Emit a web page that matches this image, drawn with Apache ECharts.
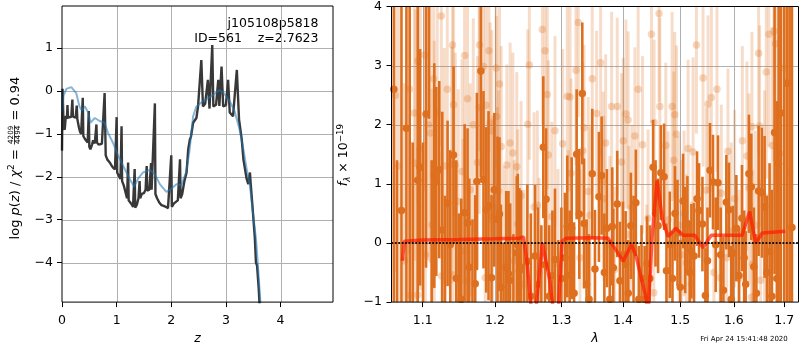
<!DOCTYPE html>
<html>
<head>
<meta charset="utf-8">
<title>j105108p5818 ID=561 redshift fit</title>
<script src="https://cdn.jsdelivr.net/npm/echarts@6.0.0/dist/echarts.min.js"></script>
<style>
  html, body { margin: 0; padding: 0; background: #fff; }
  #chart { width: 800px; height: 350px; }
</style>
</head>
<body>
<div id="chart"></div>
<script>
// ---------- p(z) panel ----------
const fitZ = [0.00,0.01,0.03,0.05,0.07,0.09,0.10,0.11,0.14,0.17,0.19,0.20,0.23,0.25,0.27,0.28,0.31,0.33,0.35,0.38,0.39,0.42,0.45,0.47,0.49,0.50,0.52,0.55,0.57,0.60,0.63,0.64,0.67,0.70,0.73,0.76,0.78,0.80,0.83,0.87,0.90,0.93,0.97,1.00,1.01,1.04,1.07,1.09,1.10,1.13,1.16,1.19,1.21,1.22,1.25,1.28,1.30,1.33,1.34,1.37,1.40,1.42,1.43,1.46,1.50,1.53,1.55,1.56,1.60,1.63,1.64,1.67,1.70,1.71,1.74,1.78,1.82,1.86,1.90,1.94,1.97,2.00,2.01,2.05,2.08,2.12,2.16,2.17,2.20,2.24,2.28,2.31,2.34,2.36,2.40,2.43,2.46,2.49,2.52,2.55,2.58,2.62,2.67,2.70,2.75,2.77,2.82,2.86,2.88,2.92,2.95,3.00,3.04,3.07,3.13,3.20,3.24,3.29,3.32,3.38,3.41,3.44,3.45,3.49,3.53,3.55,3.57,3.60,3.63];
const fitLogP = [-1.39,0.05,-0.85,-0.9,-0.58,-0.65,-0.33,-0.62,-0.6,-0.6,-0.2,-0.6,-0.62,-0.62,-0.34,-0.65,-0.85,-0.95,-1.0,-0.16,-1.05,-1.12,-1.15,-1.2,-0.47,-1.3,-1.36,-1.25,-1.15,-1.22,-0.78,-1.2,-1.25,-1.26,-1.23,-1.25,-0.05,-1.5,-1.6,-1.66,-1.72,-1.78,-1.83,-0.61,-1.9,-1.98,-2.05,-0.82,-2.1,-2.2,-2.35,-2.5,-1.67,-2.55,-2.6,-2.65,-2.7,-1.82,-2.72,-2.65,-2.5,-2.1,-2.5,-2.4,-2.38,-2.3,-1.75,-2.32,-2.3,-1.68,-2.3,-2.3,-0.29,-2.4,-2.5,-2.6,-2.66,-2.68,-2.7,-2.73,-2.72,-1.5,-2.7,-2.62,-2.58,-2.55,-1.59,-2.5,-2.4,-2.1,-1.9,-1.36,-1.13,-1.07,-0.74,-0.7,-0.63,-0.36,-0.4,0.72,-0.36,-0.3,0.26,-0.41,1.07,-0.36,-0.32,0.26,-0.35,0.57,-0.36,-0.33,0.26,-0.5,-0.59,0.49,-0.66,-1.13,-1.59,-2.05,-2.17,-1.9,-2.1,-2.75,-3.44,-4.0,-4.07,-4.6,-5.3];

const chi2Z = [0.00,0.03,0.08,0.17,0.26,0.32,0.36,0.42,0.48,0.52,0.60,0.69,0.78,0.84,0.93,1.03,1.12,1.24,1.32,1.39,1.48,1.61,1.70,1.79,1.91,2.00,2.10,2.18,2.27,2.33,2.37,2.40,2.46,2.58,2.77,2.88,2.95,3.07,3.16,3.25,3.32,3.38,3.44,3.50,3.55,3.59,3.63,3.66];
const chi2LogP = [-0.5,-0.1,0.05,0.09,-0.05,-0.36,-0.45,-0.36,-0.5,-0.74,-0.63,-0.7,-0.74,-0.97,-1.2,-1.51,-1.75,-2.05,-2.23,-2.05,-1.9,-1.84,-1.94,-2.17,-2.35,-2.28,-2.17,-2.2,-1.9,-1.43,-0.95,-0.59,-0.36,-0.24,-0.09,0.02,-0.03,-0.24,-0.47,-0.9,-1.36,-1.82,-2.21,-2.9,-3.44,-4.14,-4.9,-5.4];

const zTicks = [0, 1, 2, 3, 4];
const logPTicks = [-4, -3, -2, -1, 0, 1];
const zRange = [0, 4.96];
const logPRange = [-4.92, 1.98];

// ---------- 1D spectrum panel ----------
const specWave = [1.0625,1.0665,1.0723,1.0787,1.0830,1.0870,1.0935,1.0966,1.1005,1.1045,
  1.1085,1.1120,1.1155,1.1182,1.1222,1.1263,1.1300,1.1335,1.1372,1.1417,
  1.1455,1.1490,1.1524,1.1570,1.1611,1.1635,1.1680,1.1719,1.1742,1.1799,
  1.1836,1.1875,1.1908,1.1951,1.1990,1.2037,1.2066,1.2086,1.2125,1.2164,
  1.2197,1.2222,1.2270,1.2320,1.2335,1.2359,1.2384,1.2430,1.2478,1.2530,
  1.2594,1.2640,1.2690,1.2720,1.2746,1.2762,1.2810,1.2860,1.2900,1.2950,
  1.3000,1.3056,1.3092,1.3130,1.3162,1.3200,1.3241,1.3283,1.3331,1.3359,
  1.3400,1.3440,1.3492,1.3536,1.3601,1.3645,1.3690,1.3732,1.3780,1.3821,
  1.3838,1.3904,1.3949,1.4000,1.4045,1.4090,1.4134,1.4180,1.4219,1.4270,
  1.4317,1.4370,1.4413,1.4460,1.4518,1.4560,1.4605,1.4653,1.4711,1.4753,
  1.4812,1.4860,1.4905,1.4950,1.5000,1.5051,1.5090,1.5130,1.5170,1.5203,
  1.5251,1.5306,1.5343,1.5406,1.5461,1.5500,1.5547,1.5603,1.5654,1.5697,
  1.5748,1.5800,1.5856,1.5906,1.5950,1.5983,1.6048,1.6100,1.6157,1.6200,
  1.6229,1.6293,1.6340,1.6390,1.6440,1.6484,1.6549,1.6603,1.6650,1.6703,
  1.6750,1.6804,1.6850,1.6885,1.6930,1.7000,1.7055,1.7110,1.7159];
const specFlux = [2.6,-1.6,0.55,1.94,4.6,-1.5,1.06,1.28,-1.3,2.18,
  4.3,-1.4,1.14,1.04,1.24,0.22,-1.2,0.67,-0.03,1.49,
  -0.6,-1.3,-0.95,0.51,0.34,-0.41,-1.2,-0.69,1.04,2.91,
  1.07,0.56,0.63,-0.59,0.9,0.4,0.49,-0.75,-1.3,-0.42,
  -0.52,-0.63,-1.15,-0.17,-0.03,-0.47,-0.41,-1.2,-0.31,-0.9,
  -0.22,-0.7,-1.1,1.62,-0.37,0.74,-0.9,-0.55,-0.28,-1.05,
  -0.6,-0.25,0.28,-0.55,0.25,-0.85,1.5,0.49,2.53,0.33,
  -0.7,-0.95,1.17,-0.44,0.78,1.14,-0.5,0.25,-0.95,0.28,
  -0.42,0.66,-0.64,-0.2,-0.36,-0.85,0.29,-0.1,0.68,-0.95,
  -0.6,-0.95,-0.35,-0.6,1.28,0.5,0.29,1.19,1.12,-0.47,
  -0.03,-0.6,0.5,0.17,-0.75,0.71,0.05,0.33,-0.5,-0.14,
  -0.22,0.75,0.55,0.32,-0.89,-0.3,1.23,1.03,-0.03,1.02,
  -0.2,-0.8,0.69,0.56,-0.95,-0.17,0.25,-0.55,0.42,-0.25,
  -0.7,1.17,0.95,-0.4,-0.85,0.88,0.85,0.61,-0.5,-0.15,
  -0.9,1.87,-0.6,1.34,2.2,-1.3,2.7,4.5,0.26];
const specErr = [4.5,3.0,4.0,4.5,5.7,3.2,3.0,2.0,3.0,2.6,
  2.2,2.8,1.9,1.6,1.5,2.0,2.0,1.4,1.6,1.5,
  2.0,1.8,1.7,1.5,1.6,1.5,1.6,1.5,1.5,1.8,
  1.5,1.4,1.6,1.4,1.3,1.4,1.3,1.4,1.3,1.3,
  1.4,1.3,1.3,1.3,1.2,1.4,1.3,1.2,1.3,1.4,
  1.2,1.3,1.4,1.2,1.1,1.2,1.2,1.1,1.2,1.1,
  1.2,1.1,1.2,1.1,1.2,1.2,1.1,1.1,1.2,1.1,
  1.1,1.1,1.1,1.0,1.1,1.0,1.0,1.0,1.0,1.0,
  1.0,0.9,1.0,0.9,0.9,0.9,0.9,0.9,0.9,0.9,
  0.9,0.9,0.8,0.9,0.8,0.9,0.8,0.8,0.9,0.8,
  0.9,0.8,0.8,0.9,0.8,0.8,0.9,0.8,0.8,0.8,
  0.9,0.8,0.8,0.8,0.8,0.9,0.8,0.8,0.8,0.8,
  0.8,0.9,0.8,0.8,0.9,0.8,0.9,0.8,0.9,0.8,
  0.9,1.0,0.9,1.0,1.0,1.1,1.1,1.2,1.3,1.5,
  1.8,2.4,3.0,3.4,4.5,6.0,5.0,5.5,4.8];

const otherWave = [1.0646,1.0684,1.0761,1.0826,1.0839,1.0891,1.0904,1.0934,1.0939,1.0970,
  1.1026,1.1036,1.1075,1.1102,1.1124,1.1146,1.1155,1.1195,1.1250,1.1256,
  1.1290,1.1331,1.1390,1.1403,1.1409,1.1417,1.1440,1.1482,1.1534,1.1547,
  1.1570,1.1603,1.1611,1.1649,1.1691,1.1751,1.1775,1.1779,1.1836,1.1861,
  1.1871,1.1913,1.1932,1.1956,1.1968,1.2018,1.2025,1.2037,1.2051,1.2066,
  1.2091,1.2134,1.2174,1.2222,1.2262,1.2281,1.2320,1.2332,1.2384,1.2429,
  1.2484,1.2508,1.2579,1.2629,1.2655,1.2705,1.2746,1.2781,1.2797,1.2849,
  1.2900,1.2947,1.3020,1.3092,1.3108,1.3135,1.3151,1.3230,1.3267,1.3294,
  1.3337,1.3359,1.3427,1.3455,1.3492,1.3563,1.3628,1.3671,1.3683,1.3711,
  1.3782,1.3810,1.3860,1.3904,1.3977,1.4004,1.4050,1.4088,1.4100,1.4150,
  1.4202,1.4259,1.4334,1.4408,1.4430,1.4489,1.4530,1.4535,1.4623,1.4635,
  1.4741,1.4782,1.4853,1.4883,1.4901,1.4931,1.4980,1.5020,1.5068,1.5112,
  1.5142,1.5203,1.5233,1.5295,1.5417,1.5479,1.5510,1.5572,1.5620,1.5678,
  1.5738,1.5761,1.5862,1.5887,1.5950,1.6015,1.6100,1.6164,1.6254,1.6293,
  1.6340,1.6352,1.6366,1.6420,1.6484,1.6504,1.6524,1.6603,1.6637,1.6689,
  1.6757,1.6790,1.6824,1.6905,1.6986,1.7109];
const otherFlux = [2.5,1.3,-0.3,2.6,-0.89,2.2,1.35,-0.88,3.08,1.6,
  3.18,-0.2,2.0,1.86,0.31,2.78,1.22,2.2,3.84,-0.56,
  1.3,2.6,1.32,3.35,-0.54,2.34,1.32,0.7,1.21,-0.14,
  3.17,-0.64,2.44,0.9,2.0,1.36,2.29,3.35,2.99,-0.59,
  2.33,3.25,2.03,1.9,0.45,2.96,2.14,0.6,0.88,2.69,
  1.63,-0.4,1.32,1.69,1.52,-0.3,1.29,0.32,0.8,-0.7,
  2.01,3.01,0.61,0.64,-0.5,3.61,3.25,2.51,1.49,0.45,
  1.9,-0.35,1.68,2.48,-0.03,2.47,1.18,2.92,3.73,-0.25,
  1.56,1.95,0.87,0.47,2.78,2.19,3.05,1.06,0.75,1.69,
  -0.03,2.31,-0.45,2.31,1.37,1.73,2.18,2.08,0.14,0.6,
  1.81,2.6,1.66,-0.75,0.42,3.53,-0.84,2.04,3.88,2.31,
  1.65,0.39,2.31,1.4,2.17,1.84,0.3,-0.2,0.5,-0.34,
  1.6,-0.7,1.54,3.35,2.79,0.89,2.35,2.46,-0.5,2.6,
  -0.59,0.84,-0.25,1.55,0.2,0.75,-0.6,1.73,1.47,0.93,
  -0.92,1.97,-0.36,0.3,3.21,1.98,-0.63,0.78,2.89,3.53,
  1.65,3.58,3.37,1.51,2.96,1.2];
const otherErr = [3.0,2.8,3.0,2.8,2.6,2.5,2.6,2.5,2.4,2.4,
  2.3,2.4,2.3,2.2,2.3,2.2,2.2,2.1,2.2,2.1,
  2.0,2.0,2.0,2.0,2.0,1.9,1.9,1.9,1.9,1.9,
  1.9,1.8,1.8,1.8,1.8,1.8,1.8,1.8,1.8,1.8,
  1.7,1.7,1.7,1.7,1.7,1.7,1.7,1.7,1.7,1.7,
  1.7,1.7,1.7,1.7,1.7,1.7,1.6,1.6,1.6,1.6,
  1.6,1.6,1.6,1.6,1.6,1.6,1.6,1.6,1.6,1.6,
  1.6,1.6,1.6,1.6,1.6,1.6,1.6,1.6,1.6,1.5,
  1.5,1.4,1.6,1.5,1.5,1.4,1.6,1.5,1.4,1.5,
  1.5,1.6,1.4,1.5,1.5,1.4,1.6,1.5,1.5,1.4,
  1.5,1.6,1.5,1.4,1.5,1.5,1.6,1.4,1.5,1.5,
  1.4,1.5,1.6,1.5,1.4,1.5,1.5,1.6,1.4,1.5,
  1.5,1.4,1.6,1.5,1.5,1.4,1.5,1.6,1.5,1.4,
  1.5,1.5,1.6,1.4,1.5,1.5,1.5,1.6,1.6,1.6,
  1.6,1.6,1.6,1.6,1.7,1.7,1.7,1.8,1.8,1.9,
  2.0,2.2,2.3,2.5,2.8,3.0];

const modelWave = [1.0735,1.0760,1.1000,1.1500,1.2000,1.2350,1.2420,1.2470,1.2545,1.2600,
  1.2705,1.2820,1.2880,1.2950,1.3010,1.3075,1.3500,1.3750,1.3870,1.4004,
  1.4146,1.4230,1.4403,1.4430,1.4500,1.4588,1.4680,1.4782,1.4919,1.5050,
  1.5264,1.5417,1.5570,1.6160,1.6307,1.6425,1.6557,1.7020];
const modelFlux = [-0.3,0.03,0.05,0.06,0.07,0.08,0.1,-0.3,-1.2,-1.2,
  0.0,-0.64,-1.2,-1.2,0.03,0.08,0.09,0.08,-0.1,-0.31,
  -0.02,-0.25,-0.97,-1.2,0.1,1.06,0.4,0.11,0.25,0.13,
  0.13,-0.08,0.13,0.13,0.53,0.0,0.17,0.2];

const waveTicks = [1.1, 1.2, 1.3, 1.4, 1.5, 1.6, 1.7];
const fluxTicks = [-1, 0, 1, 2, 3, 4];
const waveRange = [1.0595, 1.7295];
const fluxRange = [-1, 4];

// ---------- styling helpers ----------
const FAMILY = '"DejaVu Sans", Verdana, sans-serif';
const FS = 12.5;
const LFS = 13;
const ORANGE = '#de6f1e';
const lg = Math.log10;
const minus = v => (v < 0 ? '\u2212' + Math.abs(v) : String(v));

const measureCtx = document.createElement('canvas').getContext('2d');
const fontStr = (size, italic) => (italic ? 'italic ' : '') + size + 'px ' + FAMILY;
function textWidth(str, size, italic) {
  measureCtx.font = fontStr(size, italic);
  return measureCtx.measureText(str).width;
}
function textEl(str, x, base, size, italic, align) {
  return {
    type: 'text', x: x, y: base - 0.346 * size,
    style: { text: str, font: fontStr(size, italic), fontSize: size, fontFamily: FAMILY,
      fontStyle: italic ? 'italic' : 'normal', fill: '#000',
      textAlign: align, textVerticalAlign: 'middle', align: align, verticalAlign: 'middle' }
  };
}
// lay out pieces of a math-style label along a common baseline, centred on 0
function mathLabel(pieces) {
  const els = [];
  let x = 0;
  pieces.forEach(p => {
    if (p.num !== undefined) {
      const w = Math.max(textWidth(p.num, p.size), textWidth(p.den, p.size)) + 2;
      els.push(textEl(p.num, x + w / 2, p.numBase, p.size, false, 'center'));
      els.push(textEl(p.den, x + w / 2, p.denBase, p.size, false, 'center'));
      els.push({ type: 'rect', x: 0, y: 0, shape: { x: x + 0.5, y: p.bar - 0.4, width: w - 1, height: 0.8 }, style: { fill: '#000' } });
      x += w;
    } else {
      els.push(textEl(p.t, x, p.dy || 0, p.size, p.italic, 'left'));
      x += textWidth(p.t, p.size, p.italic);
    }
  });
  els.forEach(e => { e.x -= x / 2; });
  return els;
}

const pzLabel = mathLabel([
  { t: 'log ', size: LFS },
  { t: 'p', size: LFS, italic: true },
  { t: '(', size: LFS },
  { t: 'z', size: LFS, italic: true },
  { t: ') / ', size: LFS },
  { t: '\u03c7', size: LFS, italic: true },
  { t: '2', size: 9, dy: -5.2 },
  { t: ' = ', size: LFS },
  { num: '4209', den: '4494', size: 7.2, numBase: -6.6, denBase: 0.7, bar: -5.6 },
  { t: ' = 0.94', size: LFS }
]);
const fluxLabel = mathLabel([
  { t: 'f', size: FS, italic: true },
  { t: '\u03bb', size: 8.75, italic: true, dy: 2.6 },
  { t: ' \u00d7 10', size: FS },
  { t: '\u221219', size: 8.75, dy: -5 }
]);

// ---------- series builders ----------
function gridLines(idx, xTicks, yTicks, xr, yr) {
  const data = [];
  xTicks.forEach(t => data.push([t, yr[0], t, yr[1]]));
  yTicks.forEach(t => data.push([xr[0], t, xr[1], t]));
  return {
    type: 'custom', xAxisIndex: idx, yAxisIndex: idx, z: 1, silent: true,
    data: data, encode: { x: [0, 2], y: [1, 3] },
    renderItem: (params, api) => {
      const a = api.coord([api.value(0), api.value(1)]);
      const b = api.coord([api.value(2), api.value(3)]);
      const vert = Math.abs(a[0] - b[0]) < 0.5;
      const px = v => Math.round(v) + 0.5;
      return { type: 'line', shape: vert ? { x1: px(a[0]), y1: a[1], x2: px(b[0]), y2: b[1] } : { x1: a[0], y1: px(a[1]), x2: b[0], y2: px(b[1]) },
        style: { stroke: '#b0b0b0', lineWidth: 1 } };
    }
  };
}
function errorBars(wave, flux, err, opacity, width, z) {
  return {
    type: 'custom', xAxisIndex: 1, yAxisIndex: 1, z: z, silent: true,
    data: wave.map((w, i) => [lg(w), flux[i], err[i]]),
    encode: { x: 0, y: 1 },
    renderItem: (params, api) => {
      const cs = params.coordSys;
      const x = api.value(0), f = api.value(1), e = api.value(2);
      const a = api.coord([x, f + e]), b = api.coord([x, f - e]);
      const y1 = Math.max(cs.y, a[1]), y2 = Math.min(cs.y + cs.height, b[1]);
      return { type: 'line', shape: { x1: a[0], y1: y1, x2: b[0], y2: y2 },
        style: { stroke: ORANGE, lineWidth: width, opacity: opacity } };
    }
  };
}
function points(wave, flux, opacity, z) {
  return {
    type: 'scatter', xAxisIndex: 1, yAxisIndex: 1, z: z, silent: true, clip: true,
    symbol: 'circle', symbolSize: 7.5,
    data: wave.map((w, i) => [lg(w), flux[i]]),
    itemStyle: { color: ORANGE, opacity: opacity }
  };
}

const tickLabel = { color: '#000', fontSize: FS, fontFamily: FAMILY };
function axis(idx, range, ticks, fmt, margin, extra) {
  return Object.assign({
    type: 'value', gridIndex: idx, min: range[0], max: range[1],
    axisLine: { show: false, onZero: false },
    axisTick: { show: true, length: 5, customValues: ticks, lineStyle: { color: '#000', width: 1 } },
    axisLabel: Object.assign({ customValues: ticks, formatter: fmt, margin: margin }, tickLabel),
    splitLine: { show: false }
  }, extra || {});
}
const axisName = { color: '#000', fontSize: FS, fontFamily: FAMILY, fontStyle: 'italic' };

const chart = echarts.init(document.getElementById('chart'), null, { renderer: 'canvas' });
chart.setOption({
  animation: false,
  backgroundColor: '#fff',
  grid: [
    { left: 62, top: 6, width: 271, height: 298, show: true, borderColor: '#000', borderWidth: 1, backgroundColor: 'transparent', z: 10 },
    { left: 391.5, top: 6, width: 407, height: 298, show: true, borderColor: '#000', borderWidth: 1, backgroundColor: 'transparent', z: 10 }
  ],
  xAxis: [
    axis(0, zRange, zTicks, v => minus(v), 12, { name: 'z', nameLocation: 'middle', nameGap: 27, nameTextStyle: axisName }),
    axis(1, waveRange.map(lg), waveTicks.map(lg), v => Math.pow(10, v).toFixed(1), 12,
      { name: '\u03bb', nameLocation: 'middle', nameGap: 26, nameTextStyle: axisName })
  ],
  yAxis: [
    axis(0, logPRange, logPTicks, v => minus(v), 9),
    axis(1, fluxRange, fluxTicks, v => minus(v), 9.5)
  ],
  series: [
    gridLines(0, zTicks.slice(1), logPTicks, zRange, logPRange),
    {
      type: 'line', xAxisIndex: 0, yAxisIndex: 0, z: 3, silent: true, showSymbol: false, clip: true,
      data: fitZ.map((z, i) => [z, fitLogP[i]]),
      lineStyle: { color: '#383838', width: 2.4, opacity: 1 }
    },
    {
      type: 'line', xAxisIndex: 0, yAxisIndex: 0, z: 4, silent: true, showSymbol: false, clip: true,
      data: chi2Z.map((z, i) => [z, chi2LogP[i]]),
      lineStyle: { color: '#1f77b4', width: 2, opacity: 0.55 }
    },
    gridLines(1, waveTicks.map(lg), fluxTicks.slice(1, -1), waveRange.map(lg), fluxRange),
    errorBars(otherWave, otherFlux, otherErr, 0.24, 3, 2),
    points(otherWave, otherFlux, 0.28, 3),
    errorBars(specWave, specFlux, specErr, 1, 2.6, 4),
    points(specWave, specFlux, 1, 5),
    {
      type: 'line', xAxisIndex: 1, yAxisIndex: 1, z: 6, silent: true, showSymbol: false, clip: true,
      data: modelWave.map((w, i) => [lg(w), modelFlux[i]]),
      lineStyle: { color: '#ff1a00', width: 3.5, opacity: 0.7 }
    },
    {
      type: 'line', xAxisIndex: 1, yAxisIndex: 1, z: 7, silent: true, showSymbol: false,
      data: waveRange.map(w => [lg(w), 0]),
      lineStyle: { color: '#111', width: 2, type: [1.8, 1.6] }
    }
  ],
  graphic: [
    { type: 'group', x: 20, y: 158, rotation: Math.PI / 2, children: pzLabel },
    { type: 'group', x: 348.5, y: 155, rotation: Math.PI / 2, children: fluxLabel },
    textEl('j105108p5818', 318.5, 28.5, FS, false, 'right'),
    textEl('ID=561    z=2.7623', 318.5, 43, FS, false, 'right'),
    textEl('Fri Apr 24 15:41:48 2020', 744, 342, 7, false, 'center')
  ]
});
</script>
</body>
</html>
